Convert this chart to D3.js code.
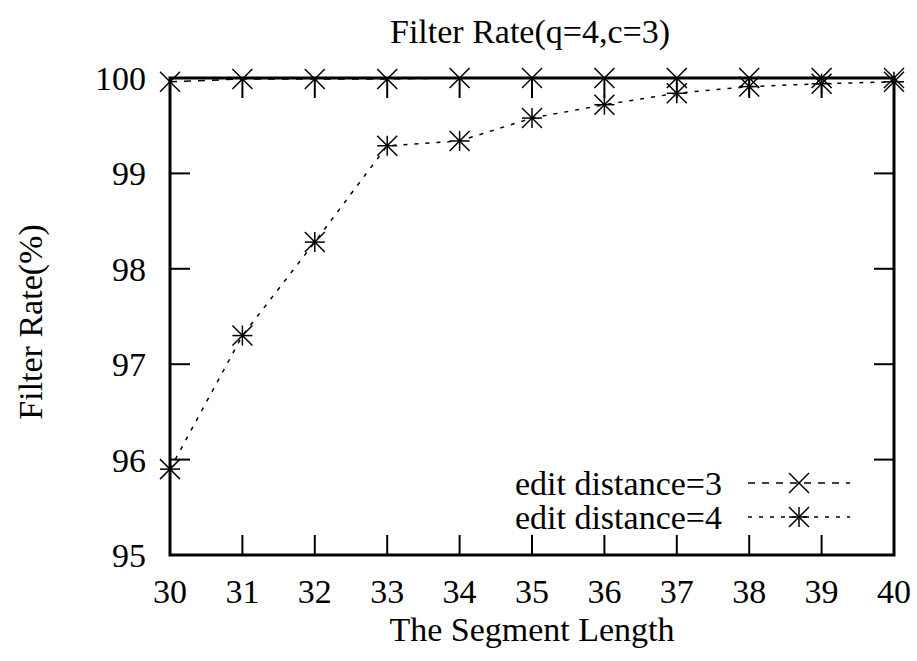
<!DOCTYPE html>
<html><head><meta charset="utf-8">
<script src="https://cdn.jsdelivr.net/npm/d3@7"></script>
<style>body{margin:0;background:#fff;} text{font-family:"Liberation Serif","Times New Roman",serif;fill:#000;}</style>
</head><body>
<svg id="c" width="917" height="661"></svg>
<script>
const segmentLengths = [30,31,32,33,34,35,36,37,38,39,40];
const ed3 = [99.96,99.99,99.99,99.99,100,100,100,100,100,100,100];
const ed4 = [95.9,97.3,98.28,99.29,99.34,99.58,99.72,99.84,99.91,99.94,99.96];
const yTicks = [95,96,97,98,99,100];
const seriesNames = ["edit distance=3","edit distance=4"];

const svg = d3.select("#c");
const L=170,R=894,T=78,B=555;
const FS=34;
const x = d3.scaleLinear().domain([30,40]).range([L,R]);
const y = d3.scaleLinear().domain([95,100]).range([B,T]);

const tk = svg.append("g").attr("stroke","#000").attr("stroke-width",2);
segmentLengths.forEach(v=>{
  tk.append("line").attr("x1",x(v)).attr("x2",x(v)).attr("y1",B).attr("y2",B-20);
  tk.append("line").attr("x1",x(v)).attr("x2",x(v)).attr("y1",T).attr("y2",T+20);
});
yTicks.forEach(v=>{
  tk.append("line").attr("x1",L).attr("x2",L+20).attr("y1",y(v)).attr("y2",y(v));
  tk.append("line").attr("x1",R).attr("x2",R-20).attr("y1",y(v)).attr("y2",y(v));
});
svg.selectAll("text.xt").data(segmentLengths).enter().append("text")
  .attr("x",d=>x(d)).attr("y",603).attr("text-anchor","middle").attr("font-size",FS).text(d=>d);
svg.selectAll("text.yt").data(yTicks).enter().append("text")
  .attr("x",L-24).attr("y",d=>y(d)+12).attr("text-anchor","end").attr("font-size",FS).text(d=>d);

const line = d3.line().x((d,i)=>x(segmentLengths[i])).y(d=>y(d));
const dashes = ["7,7","4,7"];
function marker(g,cx,cy,type){
  const s=10;
  g.append("line").attr("x1",cx-s).attr("y1",cy-s).attr("x2",cx+s).attr("y2",cy+s);
  g.append("line").attr("x1",cx-s).attr("y1",cy+s).attr("x2",cx+s).attr("y2",cy-s);
  if(type===1){
    g.append("line").attr("x1",cx).attr("y1",cy-s).attr("x2",cx).attr("y2",cy+s);
    g.append("line").attr("x1",cx-s).attr("y1",cy).attr("x2",cx+s).attr("y2",cy);
  }
}
[ed3,ed4].forEach((data,k)=>{
  svg.append("path").attr("d",line(data)).attr("fill","none").attr("stroke","#000")
    .attr("stroke-width",1.5).attr("stroke-dasharray",dashes[k]);
  const g = svg.append("g").attr("stroke","#000").attr("stroke-width",1.5);
  data.forEach((v,i)=>marker(g,x(segmentLengths[i]),y(v),k));
  const ly = 483 + k*34;
  svg.append("text").attr("x",722).attr("y",ly+12).attr("text-anchor","end").attr("font-size",FS).text(seriesNames[k]);
  svg.append("line").attr("x1",748).attr("x2",850).attr("y1",ly).attr("y2",ly)
    .attr("stroke","#000").attr("stroke-width",1.5).attr("stroke-dasharray",dashes[k]);
  const lg = svg.append("g").attr("stroke","#000").attr("stroke-width",1.5);
  marker(lg,799,ly,k);
});

svg.append("rect").attr("x",L).attr("y",T).attr("width",R-L).attr("height",B-T)
  .attr("fill","none").attr("stroke","#000").attr("stroke-width",3);

svg.append("text").attr("x",530).attr("y",43).attr("text-anchor","middle").attr("font-size",FS).text("Filter Rate(q=4,c=3)");
svg.append("text").attr("x",532).attr("y",641).attr("text-anchor","middle").attr("font-size",FS).text("The Segment Length");
svg.append("text").attr("transform","translate(42,322) rotate(-90)").attr("text-anchor","middle").attr("font-size",FS).text("Filter Rate(%)");
</script>
</body></html>
